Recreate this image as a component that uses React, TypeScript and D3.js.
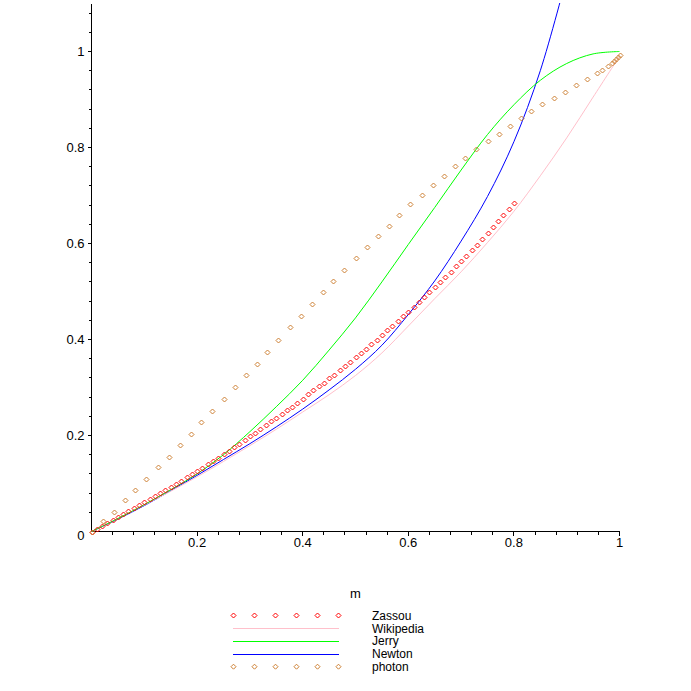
import * as d3 from 'd3';

// Zassou: points every 0.01 in m
const zassouM = [
  0, 0.01, 0.02, 0.03, 0.04, 0.05, 0.06, 0.07, 0.08, 0.09,
  0.1, 0.11, 0.12, 0.13, 0.14, 0.15, 0.16, 0.17, 0.18, 0.19,
  0.2, 0.21, 0.22, 0.23, 0.24, 0.25, 0.26, 0.27, 0.28, 0.29,
  0.3, 0.31, 0.32, 0.33, 0.34, 0.35, 0.36, 0.37, 0.38, 0.39,
  0.4, 0.41, 0.42, 0.43, 0.44, 0.45, 0.46, 0.47, 0.48, 0.49,
  0.5, 0.51, 0.52, 0.53, 0.54, 0.55, 0.56, 0.57, 0.58, 0.59,
  0.6, 0.61, 0.62, 0.63, 0.64, 0.65, 0.66, 0.67, 0.68, 0.69,
  0.7, 0.71, 0.72, 0.73, 0.74, 0.75, 0.76, 0.77, 0.78, 0.79,
  0.8,
];
const zassouY = [
  0, 0.0059, 0.0119, 0.0179, 0.0239, 0.03, 0.0361, 0.0422, 0.0484, 0.0547,
  0.061, 0.0673, 0.0736, 0.0799, 0.0863, 0.093, 0.0995, 0.1061, 0.1127, 0.1193,
  0.126, 0.1329, 0.1398, 0.1468, 0.1539, 0.161, 0.1683, 0.1756, 0.183, 0.1905,
  0.198, 0.2058, 0.2145, 0.222, 0.2296, 0.2371, 0.2446, 0.2523, 0.2603, 0.2684,
  0.2767, 0.2857, 0.294, 0.3024, 0.3101, 0.3191, 0.3268, 0.3372, 0.3456, 0.3539,
  0.3629, 0.3727, 0.381, 0.3914, 0.3998, 0.4102, 0.4192, 0.429, 0.4386, 0.4484,
  0.4582, 0.4678, 0.4782, 0.4895, 0.4999, 0.5103, 0.5207, 0.5312, 0.5416, 0.5541,
  0.5637, 0.5741, 0.586, 0.5979, 0.61, 0.6209, 0.6334, 0.6459, 0.6584, 0.6709,
  0.6834,
];

const curveM = [0, 0.05, 0.1, 0.15, 0.2, 0.25, 0.3, 0.35, 0.4, 0.45, 0.5, 0.55, 0.6, 0.65, 0.7, 0.75, 0.8, 0.85, 0.9, 0.95, 1];
const wikipediaY = [0, 0.027, 0.055, 0.084, 0.114, 0.146, 0.179, 0.213, 0.249, 0.285, 0.325, 0.372, 0.428, 0.485, 0.541, 0.602, 0.667, 0.741, 0.82, 0.905, 0.99];
const jerryY = [0, 0.027, 0.056, 0.087, 0.12, 0.16, 0.208, 0.26, 0.315, 0.378, 0.445, 0.52, 0.598, 0.675, 0.753, 0.827, 0.889, 0.94, 0.975, 0.995, 1];

const newtonM = [0, 0.05, 0.1, 0.15, 0.2, 0.25, 0.3, 0.35, 0.4, 0.45, 0.5, 0.55, 0.6, 0.65, 0.7, 0.75, 0.8, 0.85, 0.9];
const newtonY = [0, 0.026, 0.054, 0.085, 0.117, 0.15, 0.183, 0.218, 0.255, 0.295, 0.338, 0.388, 0.452, 0.522, 0.605, 0.698, 0.812, 0.96, 1.155];

const photonM = [
  0, 0.021, 0.042, 0.0625, 0.083, 0.104, 0.125, 0.146, 0.167, 0.1875,
  0.208, 0.229, 0.25, 0.271, 0.292, 0.3125, 0.333, 0.354, 0.375, 0.396,
  0.417, 0.4375, 0.458, 0.479, 0.5, 0.521, 0.542, 0.5625, 0.583, 0.604,
  0.625, 0.646, 0.667, 0.6875, 0.708, 0.729, 0.75, 0.771, 0.792, 0.8125,
  0.833, 0.854, 0.875, 0.896, 0.917, 0.9375, 0.958, 0.967, 0.979, 0.986,
  0.99, 0.994, 0.997, 1,
];
const photonY = [
  0, 0.0229, 0.0411, 0.0647, 0.087, 0.1099, 0.1335, 0.1558, 0.1794, 0.2038,
  0.2288, 0.2517, 0.2759, 0.3018, 0.3268, 0.3497, 0.373, 0.3998, 0.4269, 0.4498,
  0.4749, 0.4991, 0.5228, 0.5458, 0.5708, 0.5933, 0.6163, 0.6375, 0.6584, 0.6813,
  0.7001, 0.721, 0.7397, 0.7606, 0.7773, 0.796, 0.8127, 0.8273, 0.844, 0.8607,
  0.8753, 0.8899, 0.9024, 0.9149, 0.9295, 0.942, 0.9545, 0.9608, 0.9691, 0.9754,
  0.9802, 0.985, 0.9885, 0.9921,
];

const xTickLabels = [0.2, 0.4, 0.6, 0.8, 1];
const yTickLabels = [0.2, 0.4, 0.6, 0.8, 1];
const legendNames = ['Zassou', 'Wikipedia', 'Jerry', 'Newton', 'photon'];

const RED = '#ff0000';
const PINK = '#ffc0cb';
const GREEN = '#00ff00';
const BLUE = '#0000ff';
const ORANGE = '#cd7f32';
const FONT = '"Liberation Sans", Arial, sans-serif';

const W = 691;
const H = 691;

const x = d3.scaleLinear().domain([0, 1]).range([91.5, 619.5]);
const y = d3.scaleLinear().domain([0, 1]).range([531.5, 51.5]);

function diamond(cx: number, cy: number, r = 2.5) {
  return `M${cx},${cy - r}L${cx + r},${cy}L${cx},${cy + r}L${cx - r},${cy}Z`;
}

export default function App() {
  const line = d3.line<[number, number]>()
    .x(d => x(d[0]))
    .y(d => y(d[1]))
    .curve(d3.curveCatmullRom.alpha(0.5));

  const wiki = line(curveM.map((m, i) => [m, wikipediaY[i]]));
  const jerry = line(curveM.map((m, i) => [m, jerryY[i]]));
  const newton = line(newtonM.map((m, i) => [m, newtonY[i]]));

  // minor ticks every 0.04
  const isMajor = (v: number) => Math.abs(v / 0.2 - Math.round(v / 0.2)) < 1e-6;
  const yMinor = d3.range(1, 28).map(i => +(i * 0.04).toFixed(2)).filter(v => !isMajor(v));
  const xMinor = d3.range(1, 25).map(i => +(i * 0.04).toFixed(2)).filter(v => !isMajor(v));

  const legendXs = [233.5, 254.5, 275.5, 296.5, 317.5, 338.5];
  const legendRowY = (i: number) => 615.5 + i * 12.8;

  return (
    <svg width={W} height={H} style={{ position: 'absolute', left: 0, top: 0, background: '#fff' }} fontFamily={FONT}>
      <defs>
        <clipPath id="plot">
          <rect x={85} y={3} width={540} height={535} />
        </clipPath>
      </defs>

      {/* axes */}
      <g stroke="#000" strokeWidth={1} shapeRendering="crispEdges">
        <line x1={x(0)} x2={x(1)} y1={y(0)} y2={y(0)} />
        <line x1={x(0)} x2={x(0)} y1={y(0)} y2={y(1.1)} />
        {yTickLabels.map(v => (
          <line key={'ym' + v} x1={x(0) - 4} x2={x(0)} y1={y(v)} y2={y(v)} />
        ))}
        {yMinor.map(v => (
          <line key={'yn' + v} x1={x(0) - 3} x2={x(0)} y1={y(v)} y2={y(v)} />
        ))}
        {xTickLabels.map(v => (
          <line key={'xm' + v} x1={x(v)} x2={x(v)} y1={y(0)} y2={y(0) + 4} />
        ))}
        {xMinor.map(v => (
          <line key={'xn' + v} x1={x(v)} x2={x(v)} y1={y(0)} y2={y(0) + 3} />
        ))}
      </g>

      <g fontSize={13} fill="#000">
        {yTickLabels.map(v => (
          <text key={'yl' + v} x={x(0) - 7} y={y(v) + 4.7} textAnchor="end">{v}</text>
        ))}
        <text x={x(0) - 7} y={y(0) + 8} textAnchor="end">0</text>
        {xTickLabels.map(v => (
          <text key={'xl' + v} x={x(v)} y={y(0) + 15} textAnchor="middle">{v}</text>
        ))}
        <text x={(x(0) + x(1)) / 2} y={598} textAnchor="middle">m</text>
      </g>

      {/* series */}
      <g clipPath="url(#plot)">
        <path d={newton ?? ''} fill="none" stroke={BLUE} strokeWidth={1} />
        <path d={wiki ?? ''} fill="none" stroke={PINK} strokeWidth={1} />
        <path d={jerry ?? ''} fill="none" stroke={GREEN} strokeWidth={1} />
        <g fill="none" stroke={RED} strokeWidth={1}>
          {zassouM.map((m, i) => (
            <path key={'z' + i} d={diamond(Math.round(x(m)) + 0.5, Math.round(y(zassouY[i])) + 0.5)} />
          ))}
        </g>
        <g fill="none" stroke={ORANGE} strokeWidth={1}>
          {photonM.map((m, i) => (
            <path key={'p' + i} d={diamond(Math.round(x(m)) + 0.5, Math.round(y(photonY[i])) + 0.5)} />
          ))}
        </g>
      </g>

      {/* legend */}
      <g>
        {legendXs.map((lx, j) => (
          <path key={'lz' + j} d={diamond(lx, legendRowY(0))} fill="none" stroke={RED} />
        ))}
        <line x1={233} x2={339} y1={Math.round(legendRowY(1)) + 0.5} y2={Math.round(legendRowY(1)) + 0.5} stroke={PINK} />
        <line x1={233} x2={339} y1={Math.round(legendRowY(2)) + 0.5} y2={Math.round(legendRowY(2)) + 0.5} stroke={GREEN} />
        <line x1={233} x2={339} y1={Math.round(legendRowY(3)) + 0.5} y2={Math.round(legendRowY(3)) + 0.5} stroke={BLUE} />
        {legendXs.map((lx, j) => (
          <path key={'lp' + j} d={diamond(lx, legendRowY(4))} fill="none" stroke={ORANGE} />
        ))}
        {legendNames.map((name, i) => (
          <text key={name} x={372} y={legendRowY(i) + 4.3} fontSize={12} fill="#000">{name}</text>
        ))}
      </g>
    </svg>
  );
}
